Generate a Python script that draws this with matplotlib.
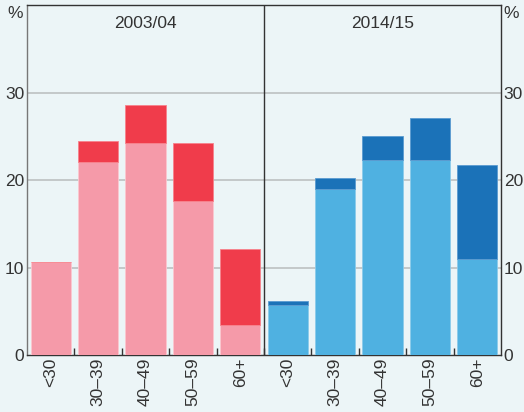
import matplotlib
matplotlib.use("Agg")
import matplotlib.pyplot as plt
import numpy as np

plt.rcParams["font.family"] = ["Liberation Sans", "DejaVu Sans"]

# --- data ------------------------------------------------------------------ #
age_groups = ["<30", "30–39", "40–49", "50–59", "60+"]
panels = ["2003/04", "2014/15"]

base_2003 = [10.6, 22.1, 24.2, 17.6, 3.4]
total_2003 = [10.6, 24.5, 28.6, 24.2, 12.1]
base_2014 = [5.7, 19.0, 22.3, 22.3, 11.0]
total_2014 = [6.2, 20.2, 25.0, 27.1, 21.7]

y_ticks = [0, 10, 20, 30]

BG = "#ecf5f7"
PINK, RED = "#f59aa9", "#f03c4b"
LBLUE, DBLUE = "#4fb1e1", "#1b72b8"
TXT = "#333333"


def main() -> None:
    fig = plt.figure(figsize=(5.24, 4.12), dpi=100, facecolor=BG)
    ax = fig.add_axes([27 / 524, 57 / 412, 474 / 524, 350 / 412], facecolor=BG)

    n = len(age_groups)
    x1 = np.arange(n)
    x2 = np.arange(n) + n
    w = 0.85

    # --- bars ------------------------------------------------------------ #
    top_2003 = np.array(total_2003) - np.array(base_2003)
    top_2014 = np.array(total_2014) - np.array(base_2014)
    ax.bar(x1, base_2003, w, color=PINK, edgecolor="#fbc7cf", linewidth=0.6, zorder=3)
    ax.bar(x1, top_2003, w, bottom=base_2003, color=RED, edgecolor="#f7828c",
           linewidth=0.6, zorder=3)
    ax.bar(x2, base_2014, w, color=LBLUE, edgecolor="#8ccbea", linewidth=0.6, zorder=3)
    ax.bar(x2, top_2014, w, bottom=base_2014, color=DBLUE, edgecolor="#5a9bd0",
           linewidth=0.6, zorder=3)

    ax.set_xlim(-0.5, 2 * n - 0.5)
    ax.set_ylim(0, 40)

    # --- grid, axes ------------------------------------------------------ #
    for y in y_ticks[1:]:
        ax.axhline(y, color="#b8bcbd", linewidth=1.1, zorder=1)
    ax.axvline(n - 0.5, color="#333333", linewidth=1.0, zorder=4)

    for side in ["top", "bottom", "right"]:
        ax.spines[side].set_color("#333333")
    ax.spines["left"].set_color("#777777")
    for sp in ax.spines.values():
        sp.set_linewidth(1.0)

    ax.set_yticks(y_ticks)
    ax.set_yticklabels([str(v) for v in y_ticks])
    ax.tick_params(axis="y", length=0, labelsize=12.5, colors=TXT,
                   left=True, right=True, labelleft=True, labelright=True, pad=2)

    ax.set_xticks(np.arange(2 * n))
    ax.set_xticklabels(age_groups * 2, rotation=90, va="top")
    ax.tick_params(axis="x", length=0, labelsize=12.5, colors=TXT, pad=2)
    ax.set_xticks(np.arange(0.5, 2 * n - 1, 1.0), minor=True)
    ax.tick_params(axis="x", which="minor", length=5, direction="in",
                   color="#333333", width=1.0)

    # --- labels ---------------------------------------------------------- #
    ax.annotate("%", xy=(0, 1), xycoords="axes fraction", xytext=(-3, -1),
                textcoords="offset points", ha="right", va="top",
                fontsize=12.5, color=TXT, annotation_clip=False)
    ax.annotate("%", xy=(1, 1), xycoords="axes fraction", xytext=(2, -1),
                textcoords="offset points", ha="left", va="top",
                fontsize=12.5, color=TXT, annotation_clip=False)
    for i, name in enumerate(panels):
        ax.text(i * n + (n - 1) / 2, 38.8, name, ha="center", va="top",
                fontsize=12.5, color=TXT)

    fig.savefig("out.png", dpi=100, facecolor=BG)


if __name__ == "__main__":
    main()
